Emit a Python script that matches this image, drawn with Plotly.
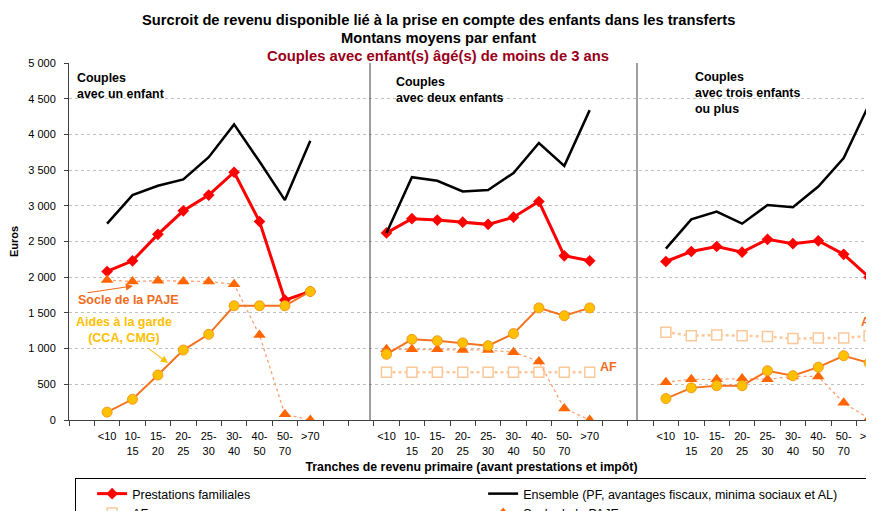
import plotly.graph_objects as go

# ---- data ----
brackets = ["<10", "10-<br>15", "15-<br>20", "20-<br>25", "25-<br>30",
            "30-<br>40", "40-<br>50", "50-<br>70", ">70"]
panels = ["Couples<br>avec un enfant", "Couples<br>avec deux enfants",
          "Couples<br>avec trois enfants<br>ou plus"]

pf_1 = [2080, 2230, 2600, 2930, 3150, 3470, 2780, 1680, 1800]
pf_2 = [2620, 2820, 2800, 2770, 2740, 2840, 3060, 2300, 2230]
pf_3 = [2220, 2360, 2430, 2350, 2530, 2470, 2510, 2320, 2000]

ens_1 = [2750, 3150, 3280, 3370, 3680, 4140, 3620, 3080, 3910]
ens_2 = [2620, 3400, 3350, 3200, 3220, 3460, 3880, 3560, 4340]
ens_3 = [2400, 2810, 2920, 2750, 3010, 2980, 3270, 3670, 4420]

af_1 = [None] * 9
af_2 = [670, 670, 670, 670, 670, 670, 670, 670, 670]
af_3 = [1230, 1180, 1190, 1180, 1170, 1140, 1150, 1150, 1180]

socle_1 = [1960, 1940, 1950, 1940, 1940, 1900, 1190, 80, 0]
socle_2 = [990, 990, 990, 980, 980, 950, 820, 160, 0]
socle_3 = [530, 570, 570, 580, 570, 610, 610, 240, 20]

garde_1 = [110, 290, 630, 980, 1200, 1600, 1600, 1600, 1800]
garde_2 = [920, 1130, 1110, 1080, 1040, 1210, 1570, 1460, 1570]
garde_3 = [300, 450, 480, 480, 690, 620, 740, 900, 800]

GAP = [None, None]


def assemble(a, b, c):
    return [None] + list(a) + GAP + list(b) + GAP + list(c)


labels = [""] + brackets + ["", ""] + brackets + ["", ""] + brackets
xs = list(range(len(labels)))

SANS = "Liberation Sans, Arial, sans-serif"
AXIS = "#404040"

fig = go.Figure()

fig.add_trace(go.Scatter(
    x=xs, y=assemble(pf_1, pf_2, pf_3), name="Prestations familiales",
    mode="lines+markers", line=dict(color="#FF0000", width=3),
    marker=dict(symbol="diamond", size=9, color="#FF0000")))
fig.add_trace(go.Scatter(
    x=xs, y=assemble(ens_1, ens_2, ens_3),
    name="Ensemble (PF, avantages fiscaux, minima sociaux et AL)",
    mode="lines", line=dict(color="#000000", width=2.5)))
fig.add_trace(go.Scatter(
    x=xs, y=assemble(af_1, af_2, af_3), name="AF",
    mode="lines+markers", line=dict(color="#FBC89A", width=2.5, dash="dot"),
    marker=dict(symbol="square", size=10, color="#FFFFFF",
                line=dict(color="#FBC89A", width=1.5))))
fig.add_trace(go.Scatter(
    x=xs, y=assemble(socle_1, socle_2, socle_3), name="Socle de la PAJE",
    mode="lines+markers", line=dict(color="#FFA070", width=1.3, dash="dot"),
    marker=dict(symbol="triangle-up", size=11, color="#FF6600")))
fig.add_trace(go.Scatter(
    x=xs, y=assemble(garde_1, garde_2, garde_3), name="Aides à la garde",
    mode="lines+markers", line=dict(color="#F5721E", width=2),
    marker=dict(symbol="circle", size=10, color="#FFC000",
                line=dict(color="#F59A1E", width=1))))

# page body has an 8px margin: figure drawn 8px smaller and shifted
OFF = 8
PX = 25.4  # pixels per category
W = 874 - 69
H = 420 - 63

fig.update_layout(
    width=874 - OFF, height=511 - OFF,
    margin=dict(l=69 - OFF, r=0, t=63 - OFF, b=91, autoexpand=False),
    paper_bgcolor="white", plot_bgcolor="white",
    separators=", ",
    font=dict(family=SANS, size=11, color="#000000"),
    showlegend=True,
    legend=dict(orientation="h", x=(75 - 69) / W, xanchor="left", y=-(478 - 420) / H,
                yanchor="top",
                entrywidth=346, entrywidthmode="pixels",
                title=dict(text="&nbsp;&nbsp;", side="left",
                           font=dict(family=SANS, size=11)),
                bordercolor="#000000", borderwidth=1, bgcolor="white",
                font=dict(family=SANS, size=12.5), traceorder="normal"),
    xaxis=dict(range=[-0.5, -0.5 + W / PX], tickmode="array", tickvals=xs,
               ticktext=labels, ticks="", showgrid=False, zeroline=False,
               showline=True, linecolor=AXIS, linewidth=1,
               tickfont=dict(family=SANS, size=11), ticklabelstandoff=6,
               ticklabeloverflow="allow",
               minor=dict(tickmode="linear", tick0=-0.5, dtick=1, ticks="outside",
                          ticklen=5, tickcolor=AXIS, showgrid=False),
               title=dict(text="<b>Tranches de revenu primaire (avant prestations et impôt)</b>",
                          font=dict(family=SANS, size=12.3), standoff=6)),
    yaxis=dict(range=[0, 5000], dtick=500, tickformat=",", showgrid=True,
               gridcolor="#C0C0C0", griddash="3px,3px", gridwidth=1,
               zeroline=False, showline=True, linecolor=AXIS, linewidth=1,
               ticks="outside", ticklen=4, tickcolor=AXIS,
               tickfont=dict(family=SANS, size=11), ticklabelstandoff=6,
               title=dict(text="<b>Euros</b>", font=dict(family=SANS, size=11),
                          standoff=8)),
)

# separators between panels
for xp in [(370 - 69) / W, (637 - 69) / W]:
    fig.add_shape(type="line", xref="paper", yref="paper", x0=xp, x1=xp,
                  y0=0, y1=1, line=dict(color="#404040", width=1))


def py2paper(py):
    return 1 - (py - 63) / H


def px2paper(px):
    return (px - 69) / W


# titles
fig.add_annotation(text="<b>Surcroit de revenu disponible lié à la prise en compte des enfants dans les transferts</b>",
                   xref="paper", yref="paper", x=px2paper(438), y=py2paper(20),
                   yanchor="middle", showarrow=False,
                   font=dict(family=SANS, size=14.7, color="#000000"))
fig.add_annotation(text="<b>Montans moyens par enfant</b>",
                   xref="paper", yref="paper", x=px2paper(438), y=py2paper(38),
                   yanchor="middle", showarrow=False,
                   font=dict(family=SANS, size=14.7, color="#000000"))
fig.add_annotation(text="<b>Couples avec enfant(s) âgé(s) de moins de 3 ans</b>",
                   xref="paper", yref="paper", x=px2paper(438), y=py2paper(56),
                   yanchor="middle", showarrow=False,
                   font=dict(family=SANS, size=14.8, color="#99001A"))

# panel labels
for txt, px, py in zip(panels, [75, 394, 693], [69, 73, 68]):
    fig.add_annotation(text="<b>" + txt + "</b>", xref="paper", yref="paper",
                       x=px2paper(px), y=py2paper(py), xanchor="left",
                       yanchor="top", align="left", showarrow=False,
                       font=dict(family=SANS, size=12.4, color="#000000"))

# series labels
fig.add_annotation(text="<b>Socle de la PAJE</b>", xref="paper", yref="paper",
                   x=px2paper(76), y=py2paper(300), xanchor="left", yanchor="middle",
                   showarrow=False, font=dict(family=SANS, size=12.5, color="#F26B1D"))
fig.add_annotation(text="<b>Aides à la garde<br>(CCA, CMG)</b>", xref="paper", yref="paper",
                   x=px2paper(124), y=py2paper(330), xanchor="center", yanchor="middle",
                   showarrow=False, font=dict(family=SANS, size=12.5, color="#FFC000"))
fig.add_annotation(text="<b>AF</b>", xref="paper", yref="paper",
                   x=px2paper(598), y=py2paper(367), xanchor="left", yanchor="middle",
                   showarrow=False, font=dict(family=SANS, size=12.5, color="#F26B1D"))
fig.add_annotation(text="<b>AF</b>", xref="paper", yref="paper",
                   x=px2paper(859), y=py2paper(322), xanchor="left", yanchor="middle",
                   showarrow=False, font=dict(family=SANS, size=12.5, color="#F26B1D"))

# arrows
fig.add_annotation(text="", xref="paper", yref="paper",
                   x=px2paper(133), y=py2paper(286), ax=-47, ay=7,
                   showarrow=True, arrowhead=2, arrowsize=1.2, arrowwidth=1.2,
                   arrowcolor="#F26B1D")
fig.add_annotation(text="", xref="paper", yref="paper",
                   x=px2paper(168), y=py2paper(363), ax=-20, ay=-15,
                   showarrow=True, arrowhead=2, arrowsize=1.2, arrowwidth=1.2,
                   arrowcolor="#FFC000")

fig.write_html("out.html")
